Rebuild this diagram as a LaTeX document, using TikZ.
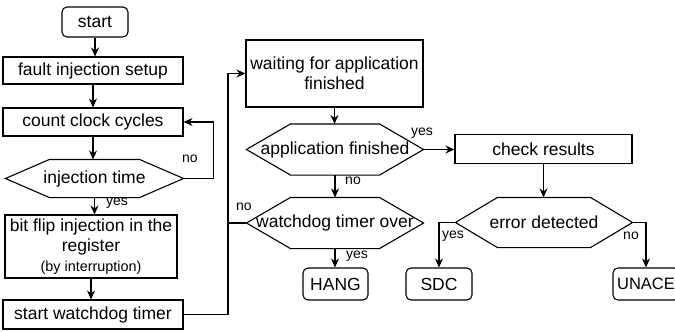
\documentclass[tikz,border=0pt]{standalone}
\usepackage{fontspec}
\setmainfont{Liberation Sans}
\usetikzlibrary{arrows.meta}
\begin{document}
\begin{tikzpicture}[x=1pt,y=-1pt,
  font=\fontsize{17.5}{20}\selectfont,
  line width=1.1pt,
  box/.style={draw, rectangle, inner sep=1pt, align=center},
  term/.style={box, rounded corners=5pt},
  lbl/.style={font=\fontsize{14}{16}\selectfont, inner sep=0pt},
  arr/.style={-{Stealth[length=9pt,width=8pt]}},
  hx/.style={inner sep=0pt, align=center}]
\useasboundingbox (0,0) rectangle (675,332);
\newcommand\hexdraw[2]{\draw (#1.west) -- ([xshift=#2pt]#1.north west) -- ([xshift=-#2pt]#1.north east) -- (#1.east) -- ([xshift=-#2pt]#1.south east) -- ([xshift=#2pt]#1.south west) -- cycle;}
% left column
\node[term, minimum width=66pt, minimum height=30pt] (start) at (95,22) {start};
\node[box, minimum width=180pt, minimum height=27pt] (fault) at (93,70.5) {fault injection setup};
\node[box, minimum width=180pt, minimum height=28pt] (count) at (93,122) {count clock cycles};
\node[hx, minimum width=177pt, minimum height=37pt] (it) at (94.5,178.5) {injection time};
\hexdraw{it}{44}
\node[box, minimum width=172pt, minimum height=63pt] (bit) at (91,246.5) {bit flip injection in the\\register\\{\fontsize{14.4}{17}\selectfont (by interruption)}};
\node[box, minimum width=180pt, minimum height=29pt] (sw) at (93,314.5) {start watchdog timer};
% middle column
\node[box, minimum width=177pt, minimum height=67pt] (wait) at (334.5,73.5) {waiting for application\\finished};
\node[hx, minimum width=176pt, minimum height=50pt] (af) at (335,149.5) {application finished};
\hexdraw{af}{44}
\node[hx, minimum width=176pt, minimum height=50pt] (wd) at (335,223) {watchdog timer over};
\hexdraw{wd}{44}
\node[term, minimum width=65pt, minimum height=32pt] (hang) at (335.5,284) {HANG};
% right column
\node[box, minimum width=177pt, minimum height=29pt] (cr) at (543.5,149) {check results};
\node[hx, minimum width=176pt, minimum height=49pt] (ed) at (544,222.5) {error detected};
\hexdraw{ed}{42}
\node[term, minimum width=66pt, minimum height=32pt] (sdc) at (439,284) {SDC};
\node[term, minimum width=66pt, minimum height=32pt, inner sep=0pt, font=\fontsize{16.5}{19}\selectfont] (unace) at (646,284) {UNACE};
\coordinate (bus) at (228,223);
% connectors
\draw[arr] (start.south) -- (start.south |- fault.north);
\draw[arr] (fault.south) -- (fault.south |- count.north);
\draw[arr] (count.south) -- (count.south |- it.north);
\draw[arr] (it.south) -- (it.south |- bit.north);
\draw[arr] (it.east) -- ++(30,0) |- (count.east);
\draw[arr] (bit.south) -- (bit.south |- sw.north);
\draw[arr] (sw.east) -| (bus) |- (wait.west);
\draw (wd.west) -- (bus);
\draw[arr] (wait.south) -- (wait.south |- af.north);
\draw[arr] (af.east) -- (af.east -| cr.west);
\draw[arr] (af.south) -- (af.south |- wd.north);
\draw[arr] (wd.south) -- (wd.south |- hang.north);
\draw[arr] (cr.south) -- (cr.south |- ed.north);
\draw[arr] (ed.west) -| (sdc.north);
\draw[arr] (ed.east) -| (unace.north);
% labels
\node[lbl] (l1) at (190,159) {no};
\node[lbl] (l2) at (117,203) {yes};
\node[lbl] (l3) at (422,133) {yes};
\node[lbl] (l4) at (353,181) {no};
\node[lbl] (l5) at (244,207) {no};
\node[lbl] (l6) at (357,256) {yes};
\node[lbl] (l7) at (453,236) {yes};
\node[lbl] (l8) at (631,236) {no};
\end{tikzpicture}
\end{document}
